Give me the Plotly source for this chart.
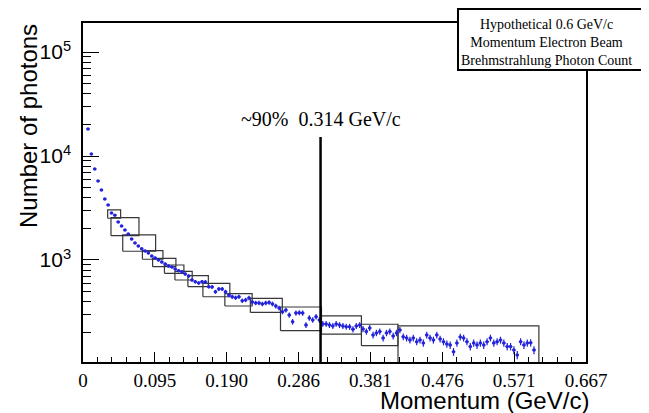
import math
import plotly.graph_objects as go

# ---------------- data ----------------
bin_width = 0.667 / 150          # histogram bin width in displayed momentum units
first_bin = 1                    # first filled bin index
photon_counts = [
    18200, 10450, 7500, 5750, 4710, 3860, 3380, 2830, 2700, 2320,
    2120, 1940, 1780, 1590, 1460, 1360, 1280, 1220, 1170, 1090,
    1045, 1000, 957, 915, 876, 857, 819, 790, 772, 733,
    701, 642, 618, 601, 618, 614, 554, 550, 495, 526,
    526, 495, 460, 443, 434, 443, 406, 412, 431, 394,
    386, 386, 378, 386, 390, 378, 361, 345, 318, 330,
    296, 255, 309, 311, 309, 237, 277, 265, 285, 265,
    243, 243, 237, 232, 243, 237, 232, 228, 228, 216,
    232, 237, 217, 205, 222, 190, 199, 205, 178, 199,
    205, 186, 199, 212, 183, 178, 170, 178, 164, 170,
    159, 190, 178, 170, 190, 174, 164, 156, 152, 131,
    159, 182, 178, 164, 147, 159, 152, 159, 152, 164,
    178, 159, 164, 170, 159, 147, 147, 136, 122, 164,
    152, 159, 160, 136,
]

# coarse boxes (momentum range and count range)
box_x_lo = [0.0327, 0.0371, 0.0527, 0.0788, 0.0923, 0.1080, 0.1219, 0.1391,
            0.1590, 0.1881, 0.2219, 0.2619, 0.3162, 0.3692, 0.4177]
box_x_hi = [0.0499, 0.0742, 0.0963, 0.1060, 0.1232, 0.1338, 0.1448, 0.1662,
            0.1947, 0.2243, 0.2643, 0.3162, 0.3692, 0.4177, 0.6045]
box_y_hi = [3030, 2550, 1740, 1228, 1038, 895, 778, 706,
            597, 474, 428, 353, 290, 241, 232]
box_y_lo = [2520, 1713, 1213, 1016, 863, 745, 642, 554,
            443, 361, 313, 209, 194, 150, 100]

cut_momentum = 0.315
cut_top = 15240

x_tick_vals = [0, 0.0953, 0.1906, 0.2859, 0.3811, 0.4764, 0.5717, 0.667]
x_tick_text = ["0", "0.095", "0.190", "0.286", "0.381", "0.476", "0.571", "0.667"]
y_tick_vals = [1e3, 1e4, 1e5]
y_tick_text = ["10<sup>3</sup>", "10<sup>4</sup>", "10<sup>5</sup>"]

title_lines = ["Hypothetical 0.6 GeV/c", "Momentum Electron Beam", "Brehmstrahlung Photon Count"]
cut_label = "~90%\u00a0 0.314 GeV/c"

# ---------------- layout helpers ----------------
OFF = 8                      # page body margin of the html page
W, H = 649 - OFF, 413 - OFF
PL, PR, PT, PB = 83, 586, 23, 362   # plot frame in window pixels

def px_x(p):
    return (p - PL) / (PR - PL)

def px_y(p):
    return (PB - p) / (PB - PT)

x_centers = [(first_bin + i + 0.5) * bin_width for i in range(len(photon_counts))]
y_err = [math.sqrt(v) for v in photon_counts]

fig = go.Figure()

# boxes
bx, by = [], []
for x0, x1, y0, y1 in zip(box_x_lo, box_x_hi, box_y_lo, box_y_hi):
    bx += [x0, x1, x1, x0, x0, None]
    by += [y0, y0, y1, y1, y0, None]
fig.add_trace(go.Scatter(x=bx, y=by, mode="lines",
                         line=dict(color="rgb(55,55,55)", width=1.2),
                         hoverinfo="skip", showlegend=False))

# data points
fig.add_trace(go.Scatter(
    x=x_centers, y=photon_counts, mode="markers",
    marker=dict(color="rgb(35,35,220)", size=3.5),
    error_x=dict(type="constant", value=bin_width / 2, color="rgb(35,35,220)", thickness=1.2, width=0),
    error_y=dict(type="data", array=y_err, color="rgb(35,35,220)", thickness=1.2, width=0),
    showlegend=False))

# cut line
fig.add_trace(go.Scatter(x=[cut_momentum, cut_momentum], y=[cut_top, 50], mode="lines",
                         line=dict(color="black", width=2.5), showlegend=False))

y_minor = [m * 10 ** e for e in (2, 3, 4, 5) for m in range(2, 10)]

fig.update_layout(
    width=W, height=H,
    margin=dict(l=PL - OFF, r=649 - PR, t=PT - OFF, b=413 - PB),
    paper_bgcolor="white", plot_bgcolor="white",
    xaxis=dict(range=[0, 0.667], tickmode="array", tickvals=x_tick_vals, ticktext=x_tick_text,
               ticks="inside", ticklen=10, tickwidth=1.2, tickcolor="black",
               minor=dict(ticks="inside", ticklen=5, tickwidth=1, tickcolor="black",
                          dtick=0.667 / 35, tick0=0, showgrid=False),
               showline=True, mirror=True, linecolor="black", linewidth=1.5,
               showgrid=False, zeroline=False,
               tickfont=dict(family="Liberation Serif", size=19, color="black"),
               ticklabelstandoff=0),
    yaxis=dict(type="log", range=[2.019, 5.279], tickmode="array",
               tickvals=y_tick_vals, ticktext=y_tick_text,
               ticks="inside", ticklen=16, tickwidth=1.2, tickcolor="black",
               minor=dict(ticks="inside", ticklen=8, tickwidth=1, tickcolor="black",
                          tickvals=y_minor, showgrid=False),
               showline=True, mirror=True, linecolor="black", linewidth=1.5,
               showgrid=False, zeroline=False,
               tickfont=dict(family="Liberation Sans", size=21, color="black"),
               ticklabelstandoff=6),
)

# title box
fig.add_shape(type="rect", xref="paper", yref="paper",
              x0=px_x(458), x1=px_x(645), y0=px_y(70), y1=px_y(9),
              fillcolor="white", line=dict(color="black", width=2), layer="above")
fig.add_annotation(xref="paper", yref="paper", x=px_x(546), y=px_y(42.5),
                   text="<br>".join(title_lines), showarrow=False,
                   xanchor="center", yanchor="middle", align="center",
                   font=dict(family="Liberation Serif", size=14, color="black"))

# cut label
fig.add_annotation(xref="paper", yref="paper", x=px_x(321), y=px_y(119),
                   text=cut_label, showarrow=False, xanchor="center", yanchor="middle",
                   font=dict(family="Liberation Serif", size=20, color="black"))

# axis titles
fig.add_annotation(xref="paper", yref="paper", x=px_x(591), y=px_y(400),
                   text="Momentum (GeV/c)", showarrow=False, xanchor="right", yanchor="middle",
                   font=dict(family="Liberation Sans", size=24, color="black"))
fig.add_annotation(xref="paper", yref="paper", x=px_x(28), y=px_y(22),
                   text="Number of photons", showarrow=False, textangle=-90,
                   xanchor="center", yanchor="top",
                   font=dict(family="Liberation Sans", size=24, color="black"))

fig.write_html("out.html")
